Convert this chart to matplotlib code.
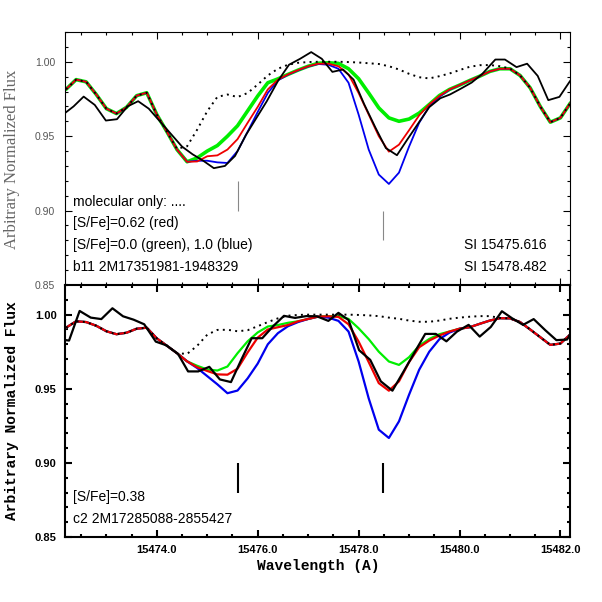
import matplotlib
matplotlib.use('Agg')
import matplotlib.pyplot as plt
from matplotlib.ticker import MultipleLocator, FormatStrFormatter


# Model wavelength grid (A)
wave = [15472.2, 15472.4, 15472.6, 15472.8, 15473.0, 15473.2, 15473.4, 15473.6, 15473.8, 15474.0,
        15474.2, 15474.4, 15474.6, 15474.8, 15475.0, 15475.2, 15475.4, 15475.6, 15475.8, 15476.0,
        15476.2, 15476.4, 15476.6, 15476.8, 15477.0, 15477.2, 15477.4, 15477.6, 15477.8, 15478.0,
        15478.2, 15478.4, 15478.6, 15478.8, 15479.0, 15479.2, 15479.4, 15479.6, 15479.8, 15480.0,
        15480.2, 15480.4, 15480.6, 15480.8, 15481.0, 15481.2, 15481.4, 15481.6, 15481.8, 15482.0,
        15482.2]

# ---------- top panel: b11 ----------
top_green = [0.9815, 0.988, 0.9865, 0.978, 0.9685, 0.9652, 0.9694, 0.9772, 0.9792, 0.9645,
             0.953, 0.941, 0.9328, 0.9354, 0.940, 0.9437, 0.950, 0.957, 0.967, 0.977,
             0.9859, 0.9885, 0.9915, 0.9944, 0.997, 0.999, 0.9993, 0.9989, 0.9953, 0.9886,
             0.979, 0.969, 0.9623, 0.960, 0.9615, 0.9655, 0.9713, 0.9773, 0.9814, 0.9843,
             0.9874, 0.9903, 0.9935, 0.9953, 0.9953, 0.9908, 0.9825, 0.970, 0.9594, 0.9623,
             0.9724]
top_red = [0.9815, 0.988, 0.9865, 0.978, 0.9685, 0.9652, 0.9694, 0.9772, 0.9792, 0.9645,
           0.953, 0.941, 0.9328, 0.933, 0.9365, 0.9371, 0.941, 0.948, 0.959, 0.9697,
           0.9814, 0.988, 0.9915, 0.9944, 0.997, 0.9987, 0.9987, 0.997, 0.9915, 0.979,
           0.9645, 0.950, 0.9396, 0.9443, 0.954, 0.964, 0.9713, 0.977, 0.9814, 0.9843,
           0.9874, 0.9903, 0.9935, 0.9953, 0.9953, 0.9908, 0.9825, 0.970, 0.9594, 0.9623,
           0.9724]
top_blue = [0.9815, 0.988, 0.9865, 0.978, 0.9685, 0.9652, 0.9694, 0.9772, 0.9792, 0.9645,
            0.953, 0.941, 0.9328, 0.9335, 0.9335, 0.9324, 0.932, 0.940, 0.953, 0.9663,
            0.979, 0.9875, 0.9913, 0.9942, 0.9968, 0.9985, 0.998, 0.9953, 0.9859, 0.9645,
            0.941, 0.9242, 0.9179, 0.9255, 0.943, 0.959, 0.970, 0.9765, 0.9812, 0.9843,
            0.9874, 0.9903, 0.9935, 0.9953, 0.9953, 0.9908, 0.9825, 0.970, 0.9594, 0.9623,
            0.9724]
top_mol = [0.9815, 0.988, 0.9865, 0.978, 0.9685, 0.9652, 0.9694, 0.9772, 0.9792, 0.9645,
           0.953, 0.9415, 0.9432, 0.9544, 0.9668, 0.9764, 0.978, 0.9763, 0.979, 0.9847,
           0.9908, 0.9953, 0.998, 0.9993, 0.9998, 1.0, 1.0, 1.0, 0.9998, 0.9995,
           0.999, 0.9985, 0.997, 0.9948, 0.9919, 0.9896, 0.9888, 0.9903, 0.9921, 0.9944,
           0.9966, 0.9977, 0.9978, 0.997, 0.9955, 0.9908, 0.9825, 0.970, 0.9594, 0.9623,
           0.9724]

top_obs_wave = [15472.14, 15472.35, 15472.55, 15472.77, 15472.99, 15473.21, 15473.42, 15473.63,
                15473.84, 15474.06, 15474.28, 15474.50, 15474.71, 15474.92, 15475.13, 15475.35,
                15475.55, 15475.77, 15475.97, 15476.18, 15476.40, 15476.62, 15476.84, 15477.06,
                15477.27, 15477.48, 15477.69, 15477.90, 15478.11, 15478.33, 15478.54, 15478.76,
                15478.97, 15479.18, 15479.40, 15479.62, 15479.81, 15480.03, 15480.24, 15480.45,
                15480.71, 15480.90, 15481.13, 15481.34, 15481.55, 15481.76, 15481.98, 15482.19,
                15482.40]
top_obs = [0.9645, 0.970, 0.9766, 0.971, 0.9605, 0.9614, 0.970, 0.9735,
           0.9685, 0.960, 0.9515, 0.943, 0.9378, 0.9335, 0.9285, 0.930,
           0.9367, 0.951, 0.962, 0.9735, 0.987, 0.998, 1.002, 1.0065,
           1.002, 0.9932, 0.9948, 0.988, 0.9715, 0.956, 0.942, 0.9372,
           0.948, 0.9585, 0.9695, 0.9755, 0.978, 0.982, 0.986, 0.9918,
           1.0015, 1.0015, 0.9964, 0.9987, 0.9905, 0.9742, 0.9764, 0.987,
           0.995]

# ---------- bottom panel: c2 ----------
bot_green = [0.9912, 0.9955, 0.995, 0.9925, 0.9888, 0.9868, 0.9878, 0.9905, 0.9912, 0.984,
             0.979, 0.974, 0.9685, 0.9655, 0.963, 0.9623, 0.965, 0.974, 0.982, 0.988,
             0.992, 0.993, 0.9945, 0.9955, 0.9971, 0.9987, 0.999, 0.999, 0.9971, 0.9908,
             0.9835, 0.975, 0.9684, 0.9661, 0.9713, 0.979, 0.9836, 0.9868, 0.9886, 0.9905,
             0.9915, 0.9938, 0.996, 0.9976, 0.9975, 0.995, 0.990, 0.9848, 0.9796, 0.9805,
             0.9868]
bot_red = [0.9912, 0.9955, 0.995, 0.9925, 0.9888, 0.9868, 0.9878, 0.9905, 0.9912, 0.984,
           0.979, 0.974, 0.9685, 0.9645, 0.962, 0.9597, 0.9595, 0.9635, 0.9745, 0.9845,
           0.990, 0.9915, 0.993, 0.9955, 0.9971, 0.9987, 0.9989, 0.9985, 0.9935, 0.9818,
           0.968, 0.9538, 0.9487, 0.955, 0.968, 0.978, 0.9825, 0.9859, 0.9886, 0.9905,
           0.9915, 0.9938, 0.996, 0.9976, 0.9975, 0.995, 0.990, 0.9848, 0.9796, 0.9805,
           0.9868]
bot_blue = [0.9912, 0.9955, 0.995, 0.9925, 0.9888, 0.9868, 0.9878, 0.9905, 0.9912, 0.984,
            0.979, 0.974, 0.9685, 0.964, 0.9585, 0.953, 0.947, 0.9488, 0.957, 0.967,
            0.980, 0.9875, 0.9922, 0.995, 0.9971, 0.9987, 0.998, 0.9958, 0.9886, 0.9684,
            0.9435, 0.9224, 0.9168, 0.928, 0.946, 0.9628, 0.975, 0.9834, 0.9879, 0.9905,
            0.9915, 0.9938, 0.996, 0.9976, 0.9975, 0.995, 0.990, 0.9848, 0.9796, 0.9805,
            0.9868]
bot_mol = [0.9912, 0.9955, 0.995, 0.9925, 0.9888, 0.9868, 0.9878, 0.9905, 0.9912, 0.984,
           0.979, 0.974, 0.9735, 0.979, 0.9865, 0.9897, 0.9898, 0.9888, 0.9895, 0.9922,
           0.995, 0.9975, 0.9993, 0.9998, 1.0, 1.0, 1.0, 1.0, 1.0, 0.9998,
           0.9995, 0.999, 0.998, 0.9972, 0.996, 0.9952, 0.9952, 0.996, 0.9972, 0.998,
           0.9986, 0.999, 0.999, 0.9978, 0.9975, 0.995, 0.990, 0.9848, 0.9796, 0.9805,
           0.9868]

bot_obs_wave = [15472.05, 15472.26, 15472.47, 15472.69, 15472.90, 15473.12, 15473.33, 15473.54,
                15473.75, 15473.98, 15474.19, 15474.42, 15474.62, 15474.82, 15475.04, 15475.25,
                15475.47, 15475.68, 15475.88, 15476.09, 15476.30, 15476.52, 15476.74, 15476.96,
                15477.17, 15477.40, 15477.60, 15477.80, 15478.01, 15478.23, 15478.44, 15478.67,
                15478.88, 15479.10, 15479.32, 15479.53, 15479.74, 15479.95, 15480.18, 15480.40,
                15480.62, 15480.84, 15481.04, 15481.26, 15481.47, 15481.70, 15481.92, 15482.13,
                15482.33]
bot_obs = [0.9835, 0.9825, 1.0025, 0.998, 0.997, 1.0043, 0.9989, 0.9966,
           0.9935, 0.9818, 0.9793, 0.9735, 0.9617, 0.9617, 0.9648, 0.9563,
           0.9545, 0.970, 0.9841, 0.9841, 0.992, 0.9992, 0.9978, 0.999,
           0.9989, 0.9958, 1.0012, 0.9964, 0.976, 0.9695, 0.955, 0.9487,
           0.961, 0.974, 0.987, 0.987, 0.982, 0.9886, 0.9931, 0.9852,
           0.9917, 1.0023, 0.9976, 0.9931, 0.997, 0.9895, 0.9828, 0.9832,
           0.993]

# SI line positions and marker extents
si_lines = [15475.616, 15478.482]
top_marks_lo = [0.900, 0.880]
top_marks_hi = [0.920, 0.900]
bot_marks_lo = [0.880, 0.880]
bot_marks_hi = [0.900, 0.900]

top_notes = ['molecular only: ....', '[S/Fe]=0.62 (red)',
             '[S/Fe]=0.0 (green), 1.0 (blue)', 'b11 2M17351981-1948329']
top_note_y = [0.9055, 0.8915, 0.877, 0.862]
top_si_notes = ['SI 15475.616', 'SI 15478.482']
bot_notes = ['[S/Fe]=0.38', 'c2 2M17285088-2855427']
bot_note_y = [0.877, 0.862]


def style_axes(ax, lw, major_len, minor_len):
    ax.set_xlim(15472.18, 15482.19)
    ax.set_ylim(0.85, 1.02)
    ax.xaxis.set_major_locator(MultipleLocator(2))
    ax.xaxis.set_minor_locator(MultipleLocator(0.5))
    ax.yaxis.set_major_locator(MultipleLocator(0.05))
    ax.yaxis.set_minor_locator(MultipleLocator(0.01))
    ax.xaxis.set_major_formatter(FormatStrFormatter('%.1f'))
    ax.yaxis.set_major_formatter(FormatStrFormatter('%.2f'))
    ax.tick_params(which='both', direction='in', top=True, right=True, width=lw)
    ax.tick_params(which='major', length=major_len)
    ax.tick_params(which='minor', length=minor_len)
    for s in ax.spines.values():
        s.set_linewidth(lw)


fig = plt.figure(figsize=(6.02, 6.02), dpi=100)
ax1 = fig.add_axes([65 / 602, 1 - 285 / 602, 505 / 602, 253 / 602])
ax2 = fig.add_axes([65 / 602, 1 - 537 / 602, 505 / 602, 252 / 602])

smooth = dict(solid_joinstyle='round', solid_capstyle='round')

# Top panel
style_axes(ax1, 0.8, 5, 2.5)
ax1.tick_params(axis='x', labelbottom=False)
ax1.tick_params(axis='y', labelsize=7.5, labelcolor='#555555', pad=7)
for lab in ax1.get_yticklabels():
    lab.set_family('Liberation Sans')
ax1.plot(wave, top_green, color='#00ee00', lw=2.6, **smooth)
ax1.plot(wave, top_blue, color='#0000ee', lw=1.3, **smooth)
ax1.plot(wave, top_red, color='#ee0000', lw=1.3, **smooth)
ax1.plot(top_obs_wave, top_obs, color='black', lw=1.3)
ax1.plot(wave, top_mol, color='black', lw=1.4, ls=(0, (1, 2.2)))
ax1.vlines(si_lines, top_marks_lo, top_marks_hi, color='#888888', lw=0.8)
for t, y in zip(top_notes, top_note_y):
    ax1.text(15472.33, y, t, fontsize=10, family='Liberation Sans', va='center')
for t, y in zip(top_si_notes, top_note_y[2:]):
    ax1.text(15481.72, y, t, fontsize=10, family='Liberation Sans', va='center', ha='right')

# Bottom panel
style_axes(ax2, 1.5, 5, 2.5)
ax2.tick_params(axis='both', labelsize=8, pad=6)
for lab in ax2.get_xticklabels() + ax2.get_yticklabels():
    lab.set_family('Liberation Sans')
    lab.set_fontweight('bold')
ax2.plot(wave, bot_green, color='#00ee00', lw=1.6, **smooth)
ax2.plot(wave, bot_blue, color='#0000ee', lw=1.6, **smooth)
ax2.plot(wave, bot_red, color='#ee0000', lw=1.6, **smooth)
ax2.plot(bot_obs_wave, bot_obs, color='black', lw=1.6)
ax2.plot(wave, bot_mol, color='black', lw=1.4, ls=(0, (1, 2.2)))
ax2.vlines(si_lines, bot_marks_lo, bot_marks_hi, color='black', lw=1.5)
for t, y in zip(bot_notes, bot_note_y):
    ax2.text(15472.33, y, t, fontsize=10, family='Liberation Sans', va='center')

# Axis labels
fig.text(12 / 602, 1 - 159 / 602, 'Arbitrary Normalized Flux', rotation=90,
         ha='center', va='center', fontsize=12, family='Liberation Serif', color='#666666')
fig.text(12 / 602, 1 - 411 / 602, 'Arbitrary Normalized Flux', rotation=90,
         ha='center', va='center', fontsize=10.5, family='Liberation Mono', fontweight='bold')
fig.text(318 / 602, 1 - 566 / 602, 'Wavelength (A)', ha='center', va='center',
         fontsize=10.5, family='Liberation Mono', fontweight='bold')

fig.savefig('out.png', dpi=100)
